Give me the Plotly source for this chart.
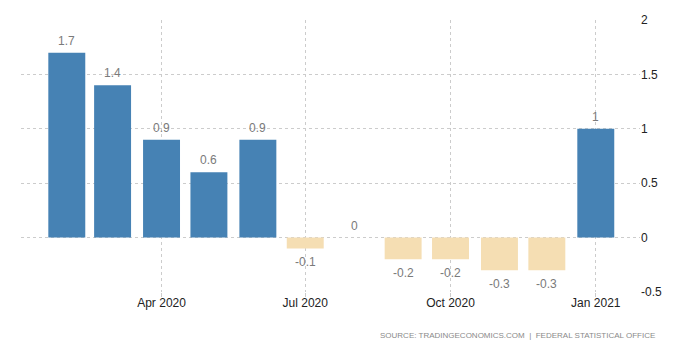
import plotly.graph_objects as go

months = ["2020-02-01", "2020-03-01", "2020-04-01", "2020-05-01", "2020-06-01", "2020-07-01",
          "2020-08-01", "2020-09-01", "2020-10-01", "2020-11-01", "2020-12-01", "2021-01-01"]
values = [1.7, 1.4, 0.9, 0.6, 0.9, -0.1, 0, -0.2, -0.2, -0.3, -0.3, 1]
labels = ["1.7", "1.4", "0.9", "0.6", "0.9", "-0.1", "0", "-0.2", "-0.2", "-0.3", "-0.3", "1"]
tick_dates = ["2020-04-01", "2020-07-01", "2020-10-01", "2021-01-01"]
tick_text = ["Apr 2020", "Jul 2020", "Oct 2020", "Jan 2021"]
y_ticks = [-0.5, 0, 0.5, 1, 1.5, 2]
y_tick_text = ["-0.5", "0", "0.5", "1", "1.5", "2"]

POS = "#4682B4"
NEG = "#F5DEB3"
FONT = "Liberation Sans"

colors = [POS if v >= 0 else NEG for v in values]
day_ms = 86400000

fig = go.Figure()
fig.add_trace(go.Bar(
    x=months, y=values, marker=dict(color=colors, line=dict(width=0)),
    width=[23.4 * day_ms] * len(values), hoverinfo="skip",
))

for m, v, t in zip(months, values, labels):
    fig.add_annotation(x=m, y=v, text=t, showarrow=False, xref="x", yref="y",
                       yanchor="middle", yshift=(-14 if v < 0 else 12),
                       font=dict(family=FONT, size=12, color="#7a7a7a"))

fig.add_annotation(x=1.0275, xref="paper", xanchor="right", yref="paper", y=0,
                   yanchor="middle", yshift=-43,
                   text="SOURCE: TRADINGECONOMICS.COM  |  FEDERAL STATISTICAL OFFICE",
                   showarrow=False, font=dict(family=FONT, size=8, color="#8a8a8a"))

fig.update_layout(
    width=700, height=350,
    margin=dict(l=21, r=60, t=20, b=58),
    paper_bgcolor="white", plot_bgcolor="white",
    showlegend=False,
    font=dict(family=FONT, size=12, color="#222"),
    xaxis=dict(
        type="date", range=["2020-01-03", "2021-01-29"],
        tickvals=tick_dates, ticktext=tick_text,
        showgrid=True, gridcolor="#cccccc", griddash="dot", gridwidth=1,
        ticks="outside", ticklen=4, tickcolor="#cccccc", ticklabelstandoff=-4,
        showline=False, zeroline=False,
        tickfont=dict(family=FONT, size=12, color="#222"),
    ),
    yaxis=dict(
        side="right", range=[-0.5, 2], tickvals=y_ticks, ticktext=y_tick_text,
        showgrid=True, gridcolor="#cccccc", griddash="dot", gridwidth=1,
        zeroline=False, showline=False, ticks="",
        tickfont=dict(family=FONT, size=12, color="#222"),
    ),
)
fig.write_html("out.html")
